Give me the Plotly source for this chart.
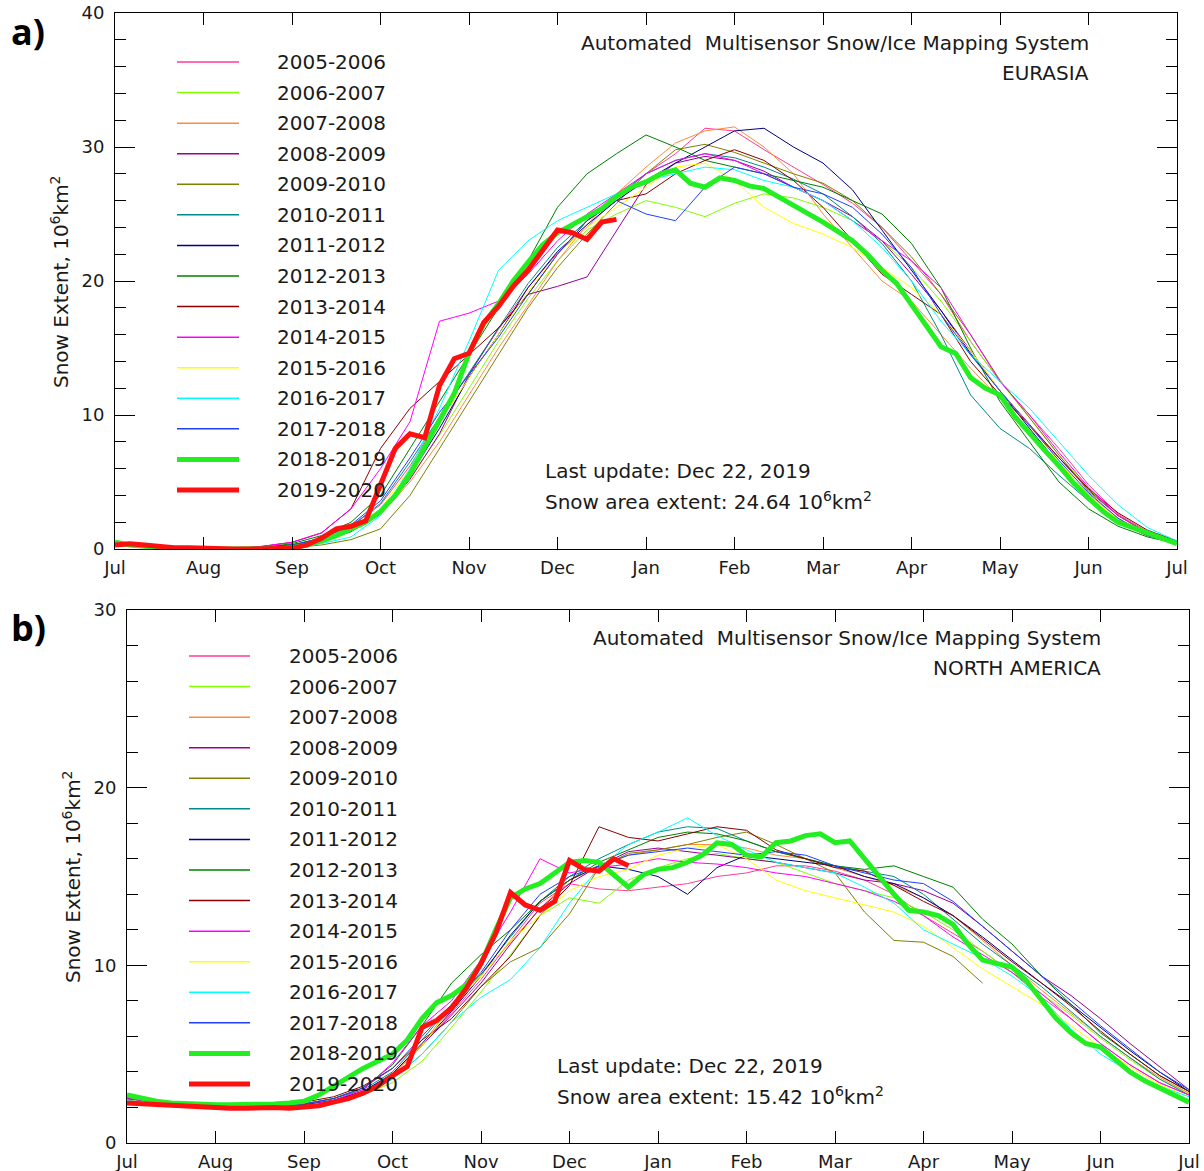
import plotly.graph_objects as go

W, H = 1204, 1171
FONT = "DejaVu Sans"
TXT = "#1a1a1a"

# ---------------- categories / labels ----------------
MONTHS = ["Jul", "Aug", "Sep", "Oct", "Nov", "Dec", "Jan", "Feb", "Mar", "Apr", "May", "Jun", "Jul"]
SEASONS = ["2005-2006", "2006-2007", "2007-2008", "2008-2009", "2009-2010", "2010-2011",
           "2011-2012", "2012-2013", "2013-2014", "2014-2015", "2015-2016", "2016-2017",
           "2017-2018", "2018-2019", "2019-2020"]
COLORS = ["#ff3c96", "#80ff00", "#ff8c3c", "#990099", "#808000", "#008b8b", "#000080",
          "#008000", "#8b0000", "#ff00ff", "#ffff00", "#00ffff", "#2040ff", "#22ee22", "#ff1010"]

# x positions in months since 1 July (thin lines every ~10 days, thick lines every ~5 days)
X_THIN = [k / 3 for k in range(37)]
X_FINE = [k / 6 for k in range(73)]

# ---------------- EURASIA (10^6 km^2) ----------------
A_0506 = [0.4,0.2,0.1,0.0,0.0, 0.1,0.3,0.8,1.7,3.3, 6.2,9.8,13.1,16.4,19.5, 22.1,24.0,26.2,28.0,29.5, 31.4,31.2,29.8,28.5,27.2, 25.8,24.0,21.5,19.0,15.5, 12.5,10.0,7.5,4.8,2.6, 1.3,0.6]
A_0607 = [0.5,0.3,0.1,0.1,0.1, 0.2,0.3,0.7,1.3,2.8, 5.3,8.5,12.0,15.5,18.7, 21.5,23.8,25.0,26.0,25.5, 24.8,25.8,26.5,26.2,25.5, 24.5,23.0,21.0,18.5,15.5, 12.5,9.8,7.0,4.5,2.5, 1.2,0.5]
A_0708 = [0.3,0.1,0.0,0.0,0.0, 0.1,0.2,0.5,1.3,2.6, 5.0,8.0,11.5,15.0,18.2, 21.5,24.2,26.5,28.5,30.3, 31.2,31.5,30.0,28.0,25.0, 22.5,20.0,18.5,16.0,13.5, 11.2,8.8,6.4,4.1,2.3, 1.1,0.5]
A_0809 = [0.4,0.2,0.1,0.0,0.0, 0.1,0.3,0.7,1.4,2.6, 5.2,8.6,13.0,16.5,19.0, 19.6,20.3,23.8,27.2,28.8, 29.3,29.0,28.2,27.0,26.0, 24.8,23.0,20.5,17.8,14.8, 11.8,9.3,6.8,4.4,2.5, 1.2,0.6]
A_0910 = [0.3,0.1,0.0,0.0,0.0, 0.0,0.1,0.3,0.7,1.5, 4.0,7.5,11.0,14.5,18.0, 21.0,23.5,25.8,28.0,29.8, 30.2,29.6,28.8,28.0,27.3, 26.0,24.0,21.8,19.0,16.0, 12.6,9.8,7.0,4.3,2.5, 1.2,0.5]
A_1011 = [0.5,0.2,0.1,0.0,0.0, 0.1,0.3,0.8,1.7,3.4, 6.5,9.8,13.2,16.5,19.8, 22.5,24.5,26.3,28.0,29.0, 29.5,29.2,28.5,27.6,26.5, 24.8,22.8,20.0,16.0,11.5, 9.0,7.5,5.5,3.6,2.0, 1.0,0.4]
A_1112 = [0.4,0.2,0.1,0.0,0.0, 0.1,0.3,0.6,1.3,2.8, 5.5,9.0,12.8,16.0,19.5, 22.2,24.2,26.0,27.5,28.8, 30.0,31.2,31.4,30.0,28.8, 26.8,23.8,20.8,17.8,14.6, 11.8,9.0,6.3,3.8,2.0, 1.0,0.4]
A_1213 = [0.5,0.3,0.1,0.0,0.0, 0.1,0.4,1.0,2.0,4.0, 7.5,11.0,14.5,18.0,21.5, 25.5,28.0,29.5,30.9,30.0, 29.0,28.5,28.0,27.5,27.0, 26.0,25.0,22.8,19.5,15.0, 11.0,8.0,5.0,3.0,1.7, 0.9,0.4]
A_1314 = [0.4,0.2,0.1,0.0,0.0, 0.2,0.5,1.2,3.0,7.5, 10.5,12.5,14.5,16.5,19.0, 22.0,24.5,26.0,26.5,28.0, 29.0,29.8,29.0,27.5,25.5, 23.0,20.5,19.0,17.5,14.0, 11.5,9.2,6.8,4.5,2.7, 1.4,0.6]
A_1415 = [0.4,0.2,0.1,0.0,0.0, 0.2,0.5,1.2,3.0,6.0, 9.5,17.0,17.6,18.5,20.5, 23.0,25.0,26.5,28.0,29.0, 29.5,29.0,28.0,27.0,26.0, 24.5,23.0,21.5,19.5,16.0, 12.5,10.0,7.2,4.6,2.5, 1.2,0.5]
A_1516 = [0.3,0.1,0.0,0.0,0.0, 0.1,0.2,0.6,1.4,3.0, 6.0,9.5,12.8,16.0,19.2, 22.0,24.0,25.5,27.0,28.5, 28.8,27.5,25.5,24.3,23.5, 22.5,21.0,19.5,17.5,14.8, 11.8,9.2,6.5,4.0,2.2, 1.0,0.4]
A_1617 = [0.4,0.2,0.1,0.0,0.0, 0.1,0.2,0.4,0.9,2.5, 6.0,10.5,15.5,20.8,23.0, 24.5,25.5,26.5,27.5,28.0, 28.5,28.3,27.5,27.0,26.0, 24.5,22.5,20.0,17.0,14.5, 12.5,10.5,8.0,5.5,3.3, 1.6,0.6]
A_1718 = [0.5,0.3,0.1,0.0,0.0, 0.1,0.3,0.8,1.8,3.6, 6.8,10.2,13.0,15.8,19.0, 22.0,24.5,26.0,25.0,24.5, 27.0,28.5,28.0,27.0,26.5, 25.5,23.5,21.0,17.5,14.5, 11.8,9.2,6.6,4.2,2.3, 1.0,0.4]
A_1819 = [0.5,0.3,0.2,0.1,0.05,0.0, 0.0,0.0,0.0,0.0,0.0,0.0, 0.1,0.3,0.6,1.0,1.5,2.0, 2.8,4.0,5.6,7.6,9.6,11.6,
          14.6,16.8,18.3,20.0,21.4,22.7, 23.6,24.2,24.8,25.4,26.3,27.0, 27.4,28.0,28.3,27.3,27.0,27.7,
          27.5,27.1,26.9,26.3,25.7,25.1, 24.4,23.7,23.0,22.0,20.8,19.8, 18.2,16.7,15.1,14.6,12.8,12.0,
          11.5,9.9,8.6,7.4,6.2,4.9, 3.8,2.8,2.0,1.6,1.2,0.8, 0.4]
A_1920 = [0.3,0.4,0.3,0.2,0.1,0.1, 0.05,0.0,0.0,0.0,0.0,0.0, 0.05,0.3,0.8,1.5,1.7,2.1,
          4.8,7.5,8.6,8.3,12.2,14.2, 14.6,16.9,18.1,19.6,20.8,22.3, 23.8,23.6,23.1,24.4,24.6]

# ---------------- NORTH AMERICA (10^6 km^2) ----------------
B_0506 = [2.6,2.3,2.1,2.0,2.0, 2.0,2.1,2.3,2.8,3.8, 5.5,7.3,9.2,11.4,13.5, 14.6,14.3,14.2,14.4,14.6, 15.0,15.2,15.6,15.6,15.3, 14.8,14.0,12.8,11.8,10.8, 9.6,8.2,7.0,5.6,4.4, 3.4,2.7]
B_0607 = [2.4,2.2,2.1,2.0,2.0, 2.0,2.1,2.3,2.7,3.4, 4.6,6.5,8.5,10.6,12.8, 13.8,13.5,14.8,15.5,16.0, 16.3,16.0,15.8,15.2,14.6, 14.2,13.8,13.0,12.0,10.8, 9.6,8.4,7.2,5.9,4.7, 3.6,2.8]
B_0708 = [2.5,2.3,2.2,2.1,2.0, 2.0,2.1,2.3,2.8,3.9, 5.5,7.8,9.5,11.3,13.2, 14.8,15.5,16.2,16.5,16.8, 16.8,16.6,16.2,16.0,15.5, 15.0,14.5,13.8,12.8,11.4, 10.0,8.6,7.3,6.0,4.8, 3.7,2.8]
B_0809 = [2.4,2.2,2.1,2.0,2.0, 2.0,2.1,2.4,2.9,3.8, 5.5,7.2,9.0,11.2,13.2, 14.6,15.6,16.4,16.6,16.4, 16.2,16.0,15.8,15.5,15.2, 14.8,14.6,14.2,13.5,12.2, 10.8,9.4,8.3,7.0,5.6, 4.3,3.0]
B_0910 = [2.5,2.3,2.15,2.05,2.0, 2.0,2.1,2.3,2.7,3.6, 5.0,6.8,8.8,10.2,11.0, 12.9,15.5,16.3,16.5,16.8, 17.2,17.5,16.8,16.0,15.2, 13.0,11.4,11.3,10.5,9.0, None,None,None,None,None, None,None]
B_1011 = [2.6,2.4,2.2,2.1,2.05, 2.05,2.2,2.5,3.0,4.0, 5.8,7.8,9.5,11.6,13.6, 15.0,16.0,16.8,17.5,17.8, 17.7,17.0,16.4,16.0,15.6, 15.3,15.0,14.0,12.6,11.2, 10.0,8.8,7.4,6.0,4.8, 3.6,2.7]
B_1112 = [2.5,2.3,2.2,2.1,2.0, 2.05,2.15,2.4,2.9,3.9, 5.6,7.4,9.4,11.7,13.6, 14.8,15.6,15.4,15.0,14.0, 15.5,16.2,16.0,15.8,15.6, 15.0,14.6,13.8,12.8,11.6, 10.3,9.0,7.8,6.5,5.2, 4.0,2.9]
B_1213 = [2.7,2.4,2.2,2.1,2.1, 2.1,2.2,2.5,3.1,4.4, 6.6,9.0,10.6,12.0,13.6, 14.8,15.8,16.5,17.2,17.5, 17.4,17.0,16.4,16.0,15.6, 15.4,15.6,15.0,14.4,12.6, 11.2,9.4,7.8,6.2,5.0, 3.8,2.9]
B_1314 = [2.6,2.4,2.2,2.1,2.0, 2.1,2.3,2.6,3.2,4.2, 5.8,7.0,8.8,10.5,12.8, 14.5,17.8,17.2,17.0,17.4, 17.8,17.6,16.5,16.0,15.5, 15.3,14.5,13.6,12.8,11.5, 10.2,9.0,7.7,6.3,5.0, 3.8,2.9]
B_1415 = [2.5,2.3,2.15,2.05,2.0, 2.0,2.1,2.4,3.0,4.5, 6.6,8.0,10.3,13.0,16.0, 15.2,15.5,15.7,16.0,15.8, 15.7,15.5,15.2,15.0,14.6, 14.2,13.6,12.8,11.6,10.6, 9.6,8.4,7.0,5.6,4.4, 3.4,2.7]
B_1516 = [2.4,2.2,2.1,2.0,2.0, 2.0,2.1,2.3,2.8,3.8, 5.5,7.6,9.4,11.4,12.8, 14.2,15.0,15.4,16.2,16.6, 16.8,16.0,14.8,14.2,13.8, 13.4,13.0,12.2,11.0,9.8, 8.8,7.8,6.6,5.4,4.3, 3.3,2.6]
B_1617 = [2.4,2.2,2.1,2.0,2.0, 2.0,2.1,2.3,2.7,3.6, 5.0,6.8,8.2,9.2,11.0, 13.5,15.5,16.8,17.5,18.3, 17.3,16.5,15.8,15.5,15.2, 14.4,13.5,12.0,11.2,10.4, 9.4,8.2,6.4,5.0,4.0, 3.2,2.6]
B_1718 = [2.6,2.4,2.2,2.1,2.0, 2.05,2.2,2.5,3.1,4.2, 6.0,7.8,9.6,12.0,14.0, 15.0,15.6,16.2,16.4,16.6, 16.4,16.2,16.4,16.2,15.6, 15.2,14.8,14.6,13.6,12.2, 10.8,9.4,8.0,6.6,5.3, 4.0,3.0]
B_1819 = [2.7,2.5,2.35,2.25,2.2,2.2, 2.15,2.15,2.15,2.15,2.2,2.25, 2.35,2.7,3.2,3.7,4.2,4.6,
          5.0,5.8,7.0,7.9,8.3,8.9, 10.1,12.0,13.8,14.3,14.6,15.2, 15.8,15.9,15.8,15.1,14.4,15.1,
          15.4,15.5,15.8,16.2,16.9,16.8, 16.2,16.1,16.9,17.0,17.3,17.4, 16.9,17.0,16.0,14.9,14.0,13.1,
          13.0,12.8,12.3,11.2,10.3,10.1, 9.9,9.1,8.0,7.0,6.2,5.6, 5.4,4.7,4.0,3.5,3.1,2.7, 2.3]
B_1920 = [2.25,2.2,2.15,2.1,2.05,2.0, 1.95,1.95,1.95,2.0,2.0,1.95, 2.0,2.1,2.3,2.5,2.8,3.2,
          3.8,4.3,6.5,6.9,7.6,8.7, 10.1,11.8,14.1,13.4,13.1,13.6, 15.9,15.4,15.3,16.0,15.6]

EURASIA = [A_0506, A_0607, A_0708, A_0809, A_0910, A_1011, A_1112, A_1213, A_1314,
           A_1415, A_1516, A_1617, A_1718, A_1819, A_1920]
NAMERICA = [B_0506, B_0607, B_0708, B_0809, B_0910, B_1011, B_1112, B_1213, B_1314,
            B_1415, B_1516, B_1617, B_1718, B_1819, B_1920]

for arr in EURASIA[:13] + NAMERICA[:13]:
    assert len(arr) == len(X_THIN), len(arr)
for arr in (A_1819, B_1819):
    assert len(arr) == len(X_FINE)

fig = go.Figure()


def add_panel(series, xa, ya):
    for i, ys in enumerate(series):
        thick = i >= 13
        xs = (X_FINE if thick else X_THIN)[:len(ys)]
        fig.add_trace(go.Scatter(
            x=xs, y=ys, mode="lines", name=SEASONS[i],
            line=dict(color=COLORS[i], width=5 if thick else 1),
            xaxis=xa, yaxis=ya, showlegend=False, connectgaps=False,
            hoverinfo="skip"))


add_panel(EURASIA, "x", "y")
add_panel(NAMERICA, "x2", "y2")


def px(v):
    return v / W


def py(v):
    return 1 - v / H


def xaxis_cfg(x0, x1, anchor):
    return dict(domain=[px(x0), px(x1)], range=[0, 12], anchor=anchor,
                tickmode="array", tickvals=list(range(13)), ticktext=MONTHS,
                ticks="inside", ticklen=12, tickwidth=1, tickcolor="black",
                showline=True, linecolor="black", linewidth=1, mirror="allticks",
                showgrid=False, zeroline=False, automargin=False, fixedrange=True,
                tickfont=dict(family=FONT, size=18, color=TXT), ticklabelstandoff=2)


def yaxis_cfg(ytop, ybot, ymax, anchor):
    return dict(domain=[py(ybot), py(ytop)], range=[0, ymax], anchor=anchor,
                tickmode="array", tickvals=list(range(0, ymax + 1, 10)),
                ticks="inside", ticklen=20, tickwidth=1, tickcolor="black",
                minor=dict(tick0=0, dtick=2, ticks="inside", ticklen=11, tickwidth=1,
                           tickcolor="black", showgrid=False),
                showline=True, linecolor="black", linewidth=1, mirror="allticks",
                showgrid=False, zeroline=False, automargin=False, fixedrange=True,
                tickfont=dict(family=FONT, size=18, color=TXT), ticklabelstandoff=6)


fig.update_layout(
    width=W, height=H, margin=dict(l=0, r=0, t=0, b=0),
    paper_bgcolor="white", plot_bgcolor="white", showlegend=False,
    xaxis=xaxis_cfg(115, 1177, "y"),
    yaxis=yaxis_cfg(13, 549, 40, "x"),
    xaxis2=xaxis_cfg(127, 1189, "y2"),
    yaxis2=yaxis_cfg(610, 1143, 30, "x2"),
)

annotations = []
shapes = []


def txt(x, y, s, anchor="left", size=20, angle=0, bold=False, family=FONT):
    annotations.append(dict(
        xref="paper", yref="paper", x=px(x), y=py(y), text=("<b>%s</b>" % s) if bold else s,
        showarrow=False, xanchor=anchor, yanchor="middle", textangle=angle,
        font=dict(family=family, size=size, color=TXT if not bold else "black")))


PANEL_TEXT = [
    dict(lx0=177, lx1=239, tx=275, ry=62, trx=1091, ty=43, region="EURASIA", ix=543, iy=471,
         extent="24.64", ylx=60, yly=282, tagy=32, tag="a)"),
    dict(lx0=189, lx1=250, tx=287, ry=656, trx=1103, ty=638, region="NORTH AMERICA", ix=555, iy=1066,
         extent="15.42", ylx=72, yly=877, tagy=627, tag="b)"),
]
ROW = 30.57

for p in PANEL_TEXT:
    for i, name in enumerate(SEASONS):
        yy = p["ry"] + ROW * i
        shapes.append(dict(type="line", xref="paper", yref="paper",
                           x0=px(p["lx0"]), x1=px(p["lx1"]), y0=py(yy), y1=py(yy),
                           line=dict(color=COLORS[i], width=5 if i >= 13 else 1.5)))
        txt(p["tx"], yy, name)
    txt(p["trx"], p["ty"], "Automated\u00a0 Multisensor Snow/Ice Mapping System", anchor="right")
    txt(p["trx"], p["ty"] + 30, p["region"], anchor="right")
    txt(p["ix"], p["iy"], "Last update: Dec 22, 2019")
    txt(p["ix"], p["iy"] + 30, "Snow area extent: %s 10<sup>6</sup>km<sup>2</sup>" % p["extent"])
    txt(p["ylx"], p["yly"], "Snow Extent, 10<sup>6</sup>km<sup>2</sup>", anchor="center", angle=-90)
    txt(28, p["tagy"], p["tag"], anchor="center", size=36, bold=True, family="Open Sans")

fig.update_layout(annotations=annotations, shapes=shapes)
fig.write_html("out.html", config={"displayModeBar": False},
               post_script="document.body.style.margin='0';document.body.style.overflow='hidden';")
